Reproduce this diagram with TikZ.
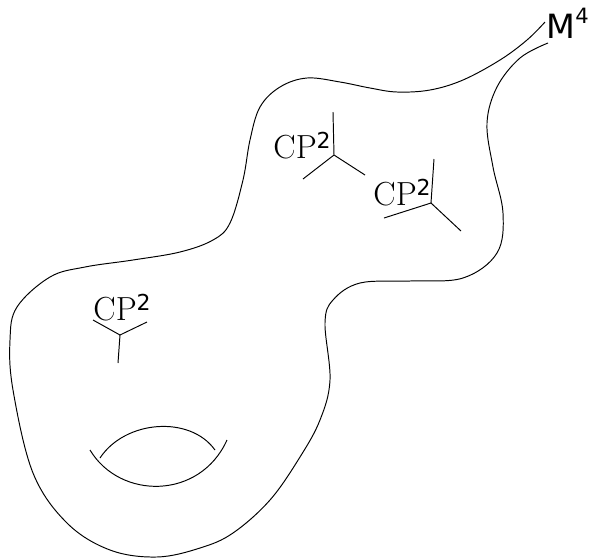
\documentclass[tikz,border=0pt]{standalone}
\usepackage{fontspec}
\usepackage{tikz}
\usetikzlibrary{positioning}
\newfontfamily\dejavu{DejaVu Sans}

\begin{document}
\begin{tikzpicture}[x=0.02cm,y=-0.02cm,line width=0.55pt,
  cptext/.style={inner sep=0pt,anchor=base west,font=\fontsize{19}{20}\selectfont},
  mtext/.style={inner sep=0pt,anchor=base west,font=\dejavu\fontsize{19}{20}\selectfont}]
\useasboundingbox (0,0) rectangle (589,559);

% the surface
\draw plot[smooth,tension=0.6] coordinates {(545,22) (527,40) (500,60) (463,80) (430,90)
  (397,92) (370,88) (340,82) (307,78) (280,87) (260,107) (250,140) (243,180) (230,223)
  (213,240) (180,252) (133,260) (85,267) (50,277) (17,307) (10,340) (13,390) (33,473)
  (67,523) (110,550) (157,557) (200,548) (233,533) (270,500) (300,457) (320,420)
  (330,380) (325,323) (333,300) (360,283) (410,281) (463,278) (497,253) (503,213)
  (493,167) (487,123) (497,87) (520,58) (548,43)};
\node (M) [mtext] at (546,38) {M\raisebox{8pt}{\fontsize{12}{12}\selectfont 4}};

% handle
\draw (100,458) .. controls (125,420) and (190,415) .. (215,450);
\draw (90,450) .. controls (120,500) and (200,500) .. (227,440);

% blown up points
\node (A) [cptext] at (273,158) {CP\raisebox{5.5pt}{\dejavu\fontsize{12.5}{13}\selectfont 2}};
\coordinate (a) at (334,155);
\draw (333,112) -- (a) -- (303,179);
\draw (a) -- (365,175);

\node (B) [cptext] at (373,205) {CP\raisebox{5.5pt}{\dejavu\fontsize{12.5}{13}\selectfont 2}};
\coordinate (b) at (431,203);
\draw (434,159) -- (b) -- (384,218);
\draw (b) -- (461,231);

\node (C) [cptext] at (93,320) {CP\raisebox{5.5pt}{\dejavu\fontsize{12.5}{13}\selectfont 2}};
\coordinate (c) at (120,335);
\draw (93,320) -- (c) -- (147,322);
\draw (c) -- (118,363);
\end{tikzpicture}
\end{document}
